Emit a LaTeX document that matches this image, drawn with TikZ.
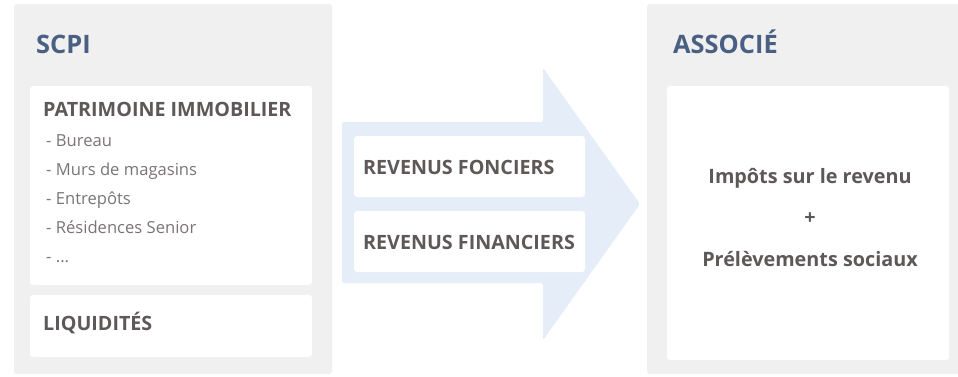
\documentclass[tikz,border=0pt]{standalone}
\usepackage{fontspec}
\setmainfont{Open Sans}
\definecolor{panel}{HTML}{F0F0F0}
\definecolor{arrowc}{HTML}{E4EDF8}
\definecolor{titlec}{HTML}{4A6082}
\definecolor{textc}{HTML}{5E5858}
\definecolor{listc}{HTML}{7A7575}
\begin{document}
\begin{tikzpicture}[x=1pt,y=-1pt,
  panelbox/.style={fill=panel,rounded corners=3pt},
  whitebox/.style={fill=white,rounded corners=3pt},
  titletext/.style={anchor=base west,inner sep=0pt,text=titlec,font=\fontsize{25.4}{28}\selectfont\bfseries},
  headtext/.style={anchor=base west,inner sep=0pt,text=textc,font=\fontsize{19.7}{22}\selectfont\bfseries},
  listtext/.style={anchor=base west,inner sep=0pt,text=listc,font=\fontsize{16.6}{19}\selectfont},
  centertext/.style={anchor=base,inner sep=0pt,text=textc,font=\fontsize{19.8}{22}\selectfont\bfseries}]
\useasboundingbox (0,0) rectangle (958,376);
\fill[white] (0,0) rectangle (958,376);
% panels
\fill[panelbox] (14,4) rectangle (332,374);
\fill[panelbox] (647,4) rectangle (962,374);
% arrow
\fill[arrowc,rounded corners=2pt] (342,122) -- (543,122) -- (543,68) -- (640,204) -- (543,340) -- (543,283) -- (342,283) -- cycle;
% white boxes
\fill[whitebox] (30,86) rectangle (312,285);
\fill[whitebox] (30,295) rectangle (312,357);
\fill[whitebox] (354,136) rectangle (585,197);
\fill[whitebox] (354,211) rectangle (585,272);
\fill[whitebox] (667,86) rectangle (949,360);
% texts
\node[titletext] (scpi) at (36,53) {SCPI};
\node[titletext] (assoc) at (673,53) {ASSOCIÉ};
\node[headtext] (patri) at (43,116) {PATRIMOINE IMMOBILIER};
\node[listtext] (l1) at (46,146) {- Bureau};
\node[listtext] (l2) at (46,175) {- Murs de magasins};
\node[listtext] (l3) at (46,204) {- Entrepôts};
\node[listtext] (l4) at (46,233) {- Résidences Senior};
\node[listtext] (l5) at (46,262) {- ...};
\node[headtext] (liq) at (43,330) {LIQUIDITÉS};
\node[headtext] (rf) at (363,174) {REVENUS FONCIERS};
\node[headtext] (rfi) at (363,249) {REVENUS FINANCIERS};
\node[centertext] (imp) at (810,183) {Impôts sur le revenu};
\node[centertext] (plus) at (810,224) {+};
\node[centertext] (prel) at (810,266) {Prélèvements sociaux};
\end{tikzpicture}
\end{document}
